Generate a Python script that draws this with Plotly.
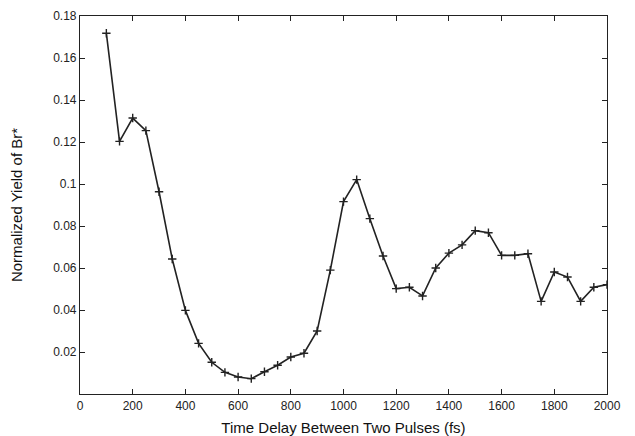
import plotly.graph_objects as go

delay_fs = [100, 150, 200, 250, 300, 350, 400, 450, 500, 550, 600, 650, 700, 750,
            800, 850, 900, 950, 1000, 1050, 1100, 1150, 1200, 1250, 1300, 1350,
            1400, 1450, 1500, 1550, 1600, 1650, 1700, 1750, 1800, 1850, 1900,
            1950, 2000]
yield_br = [0.1718, 0.1203, 0.1314, 0.1254, 0.0963, 0.0643, 0.0398, 0.0241,
            0.0151, 0.0103, 0.0081, 0.0073, 0.0106, 0.0137, 0.0176, 0.0194,
            0.0300, 0.0590, 0.0916, 0.1021, 0.0835, 0.0657, 0.0502, 0.0508,
            0.0467, 0.0600, 0.0671, 0.0710, 0.0778, 0.0768, 0.0660, 0.0660,
            0.0668, 0.0441, 0.0581, 0.0557, 0.0441, 0.0508, 0.0521]

x_ticks = [0, 200, 400, 600, 800, 1000, 1200, 1400, 1600, 1800, 2000]
y_ticks = [0.02, 0.04, 0.06, 0.08, 0.1, 0.12, 0.14, 0.16, 0.18]
y_tick_text = ["0.02", "0.04", "0.06", "0.08", "0.1", "0.12", "0.14", "0.16", "0.18"]

fig = go.Figure()
fig.add_trace(go.Scatter(
    x=delay_fs, y=yield_br, mode="lines+markers",
    line=dict(color="#222222", width=1.6),
    marker=dict(symbol="cross-thin", size=6, line=dict(color="#222222", width=1.4)),
    showlegend=False,
))

axis_common = dict(
    showline=True, linecolor="#222222", linewidth=1.2, mirror="ticks",
    ticks="inside", ticklen=5, tickcolor="#222222", showgrid=False,
    zeroline=False, automargin=False,
    tickfont=dict(family="Liberation Sans, Arial", size=12, color="#222222"),
)

# page body has an 8px default margin, so the figure sits at (8, 8)
fig.update_layout(
    width=627, height=428,
    margin=dict(l=72, r=28, t=8, b=42),
    paper_bgcolor="white", plot_bgcolor="white",
    xaxis=dict(range=[0, 2000], tickvals=x_ticks,
               title=dict(text="Time Delay Between Two Pulses (fs)", standoff=11,
                          font=dict(family="Liberation Sans, Arial", size=15, color="#111111")),
               **axis_common),
    yaxis=dict(range=[0, 0.18], tickvals=y_ticks, ticktext=y_tick_text,
               title=dict(text="Normalized Yield of Br*", standoff=27,
                          font=dict(family="Liberation Sans, Arial", size=15, color="#111111")),
               **axis_common),
)

fig.write_html("out.html")
